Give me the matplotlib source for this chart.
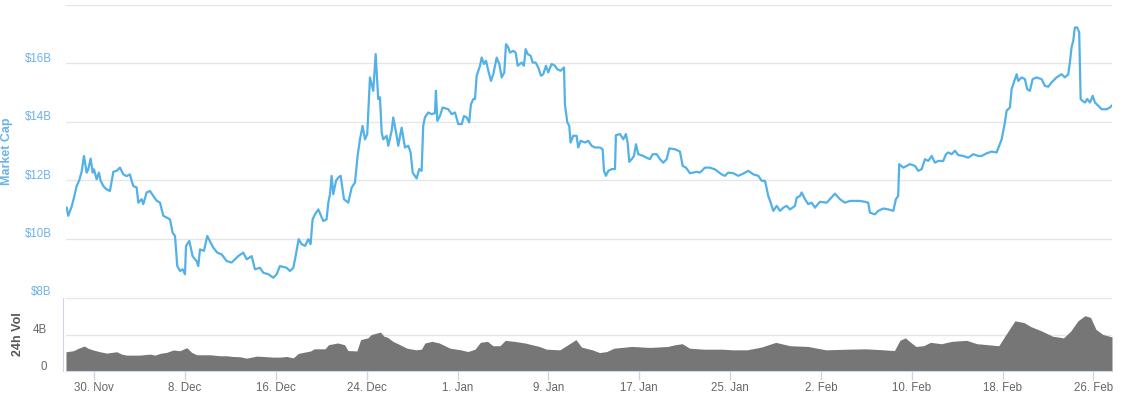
import matplotlib
matplotlib.use("Agg")
import matplotlib.pyplot as plt
import matplotlib.transforms as mtransforms
import pandas as pd

# ---------------- data ----------------
BASE_DATE = "2018-11-30"

# market cap: time in days relative to BASE_DATE, value in $B
mcap_day = [
    -2.43, -2.29, -1.99, -1.79, -1.55, -1.32, -1.11, -0.91, -0.67, -0.53, -0.32, -0.14, -0.03,
    0.21, 0.41, 0.56, 0.80, 1.03, 1.38, 1.68, 1.97, 2.26, 2.56, 2.85, 3.14, 3.29, 3.44, 3.73,
    3.88, 4.17, 4.32, 4.61, 4.91, 5.20, 5.49, 5.79, 6.08, 6.37, 6.67, 6.90, 7.11, 7.31, 7.55,
    7.78, 7.99, 8.08, 8.37, 8.66, 9.01, 9.16, 9.31, 9.66, 9.95, 10.25, 10.48, 10.83, 11.22,
    11.66, 12.10, 12.68, 13.12, 13.42, 13.86, 14.15, 14.59, 14.89, 15.33, 15.77, 16.06, 16.35,
    16.94, 17.23, 17.53, 17.76, 18.00, 18.26, 18.56, 18.85, 19.05, 19.23, 19.44, 19.73, 20.17,
    20.46, 20.61, 20.76, 20.90, 21.05, 21.29, 21.49, 21.70, 21.99, 22.37, 22.67, 22.96, 23.19,
    23.40, 23.63, 23.84, 24.04, 24.28, 24.57, 24.78, 25.01, 25.16, 25.31, 25.45, 25.75, 25.89,
    26.19, 26.33, 26.63, 26.77, 27.07, 27.36, 27.65, 27.86, 28.04, 28.39, 28.62, 28.83, 28.97,
    29.12, 29.41, 29.71, 30.00, 30.09, 30.21, 30.44, 30.68, 31.18, 31.48, 31.77, 32.06, 32.36,
    32.56, 32.80, 33.02, 33.17, 33.38, 33.53, 33.68, 33.97, 34.12, 34.32, 34.50, 34.70, 34.94,
    35.14, 35.44, 35.67, 35.88, 36.11, 36.26, 36.46, 36.61, 36.90, 37.11, 37.29, 37.64, 37.84,
    37.99, 38.17, 38.43, 38.61, 38.87, 39.10, 39.34, 39.54, 39.78, 39.98, 40.28, 40.57, 40.77,
    41.07, 41.37, 41.45, 41.66, 41.83, 41.95, 42.18, 42.48, 42.62, 42.84, 43.21, 43.51, 43.80,
    44.09, 44.53, 44.77, 44.89, 45.06, 45.27, 45.57, 45.86, 45.94, 46.30, 46.59, 46.82, 46.97,
    47.12, 47.33, 47.53, 47.71, 47.91, 48.35, 48.65, 48.94, 49.18, 49.53, 49.82, 50.11, 50.41,
    50.64, 51.14, 51.58, 51.82, 52.11, 52.46, 52.75, 53.05, 53.34, 53.78, 54.22, 54.66, 55.04,
    55.25, 55.54, 55.83, 56.27, 56.71, 57.01, 57.60, 58.04, 58.48, 58.78, 59.07, 59.36, 59.57,
    59.80, 60.10, 60.39, 60.68, 60.98, 61.27, 61.71, 61.86, 62.15, 62.30, 62.59, 62.88, 63.18,
    63.47, 63.91, 64.50, 64.79, 65.23, 65.67, 66.11, 66.55, 66.99, 67.43, 67.87, 68.16, 68.31,
    68.75, 69.04, 69.49, 69.93, 70.37, 70.60, 70.80, 70.89, 71.25, 71.54, 71.84, 72.28, 72.57,
    72.87, 73.16, 73.45, 73.75, 74.04, 74.33, 74.77, 75.01, 75.21, 75.51, 75.80, 76.09, 76.53,
    76.97, 77.41, 77.85, 78.15, 78.59, 79.03, 79.47, 79.70, 79.91, 80.20, 80.35, 80.64, 80.79,
    80.99, 81.23, 81.37, 81.67, 81.96, 82.16, 82.40, 82.64, 82.99, 83.43, 83.72, 84.01, 84.31,
    84.75, 85.19, 85.48, 85.78, 85.92, 86.07, 86.22, 86.36, 86.57, 86.74, 86.87, 87.01, 87.25,
    87.45, 87.69, 87.93, 88.13, 88.42, 88.72, 89.16, 89.45, 89.60,
]
mcap_bn = [
    11.06, 10.78, 11.10, 11.40, 11.80, 12.00, 12.30, 12.83, 12.26, 12.37, 12.74, 12.26, 12.37,
    12.03, 12.26, 11.98, 11.80, 11.70, 11.63, 12.29, 12.32, 12.43, 12.20, 12.14, 12.20, 11.98,
    11.80, 11.75, 11.23, 11.35, 11.18, 11.58, 11.63, 11.46, 11.30, 11.23, 10.78, 10.72, 10.66,
    10.20, 10.09, 9.06, 8.89, 8.95, 8.78, 9.75, 9.92, 9.40, 9.23, 9.06, 9.63, 9.58, 10.09, 9.86,
    9.69, 9.52, 9.46, 9.23, 9.18, 9.40, 9.52, 9.29, 9.40, 8.95, 9.00, 8.83, 8.78, 8.66, 8.78,
    9.06, 9.00, 8.89, 9.00, 9.46, 9.98, 9.81, 9.75, 9.98, 9.81, 10.66, 10.83, 11.00, 10.60,
    10.66, 11.23, 11.52, 12.15, 11.52, 11.98, 12.09, 12.15, 11.35, 11.23, 11.75, 11.92, 12.83,
    13.40, 13.86, 13.40, 13.58, 15.52, 15.06, 16.32, 14.78, 14.84, 13.63, 13.40, 13.52, 13.18,
    13.69, 14.15, 13.52, 13.18, 13.80, 13.12, 13.18, 12.95, 12.26, 12.06, 12.38, 12.32, 13.86,
    14.15, 14.32, 14.26, 14.30, 15.06, 14.03, 14.20, 14.49, 14.43, 14.26, 14.32, 13.92, 13.92,
    14.20, 14.15, 13.98, 14.60, 14.78, 14.78, 15.58, 15.92, 16.20, 15.98, 16.09, 15.75, 15.40,
    15.63, 16.20, 15.98, 15.52, 15.69, 16.66, 16.55, 16.37, 16.43, 16.37, 15.92, 16.03, 15.92,
    16.49, 16.32, 16.26, 16.03, 16.03, 15.86, 15.58, 15.63, 15.92, 15.69, 15.98, 15.92, 15.80,
    15.75, 15.86, 14.60, 13.98, 13.86, 13.29, 13.52, 13.52, 13.12, 13.35, 13.29, 13.35, 13.18,
    13.12, 13.12, 13.06, 12.32, 12.15, 12.32, 12.38, 12.38, 13.54, 13.58, 13.40, 13.58, 13.29,
    12.63, 12.72, 12.83, 13.23, 12.89, 12.83, 12.77, 12.72, 12.89, 12.89, 12.72, 12.60, 12.72,
    13.09, 13.06, 12.98, 12.49, 12.43, 12.24, 12.26, 12.29, 12.26, 12.43, 12.43, 12.37, 12.26,
    12.20, 12.15, 12.26, 12.24, 12.15, 12.20, 12.32, 12.20, 12.15, 11.98, 11.98, 11.46, 11.23,
    10.95, 11.12, 10.95, 11.06, 11.12, 11.00, 11.12, 11.40, 11.46, 11.58, 11.35, 11.18, 11.23,
    11.06, 11.26, 11.23, 11.35, 11.54, 11.35, 11.23, 11.29, 11.29, 11.29, 11.26, 11.23, 10.89,
    10.83, 10.95, 11.03, 11.00, 10.95, 11.35, 11.46, 12.55, 12.43, 12.49, 12.55, 12.49, 12.32,
    12.38, 12.72, 12.66, 12.83, 12.60, 12.66, 12.66, 12.89, 12.95, 12.89, 13.01, 12.86, 12.83,
    12.77, 12.89, 12.83, 12.83, 12.92, 12.98, 12.95, 13.18, 13.40, 13.98, 14.38, 14.49, 15.12,
    15.35, 15.63, 15.40, 15.52, 15.46, 15.12, 15.06, 15.46, 15.52, 15.46, 15.23, 15.20, 15.35,
    15.52, 15.63, 15.52, 15.63, 16.03, 16.55, 16.78, 17.23, 17.23, 17.06, 14.78, 14.72, 14.66,
    14.78, 14.66, 14.89, 14.66, 14.55, 14.43, 14.43, 14.49, 14.55,
]

# 24h volume: time in days relative to BASE_DATE, value in billions
vol_day = [
    -2.49, -1.85, -1.41, -0.88, -0.53, -0.09, 0.50, 1.09, 1.97, 2.41, 2.85, 4.02, 4.91, 5.35,
    5.79, 6.37, 6.96, 7.55, 8.14, 8.58, 9.02, 10.19, 11.07, 11.66, 12.24, 12.83, 13.42, 14.30,
    14.88, 15.76, 16.35, 16.94, 17.53, 17.97, 19.06, 19.37, 20.32, 20.63, 21.42, 22.04, 22.34,
    23.13, 23.46, 24.09, 24.40, 25.20, 25.51, 25.82, 26.30, 26.92, 27.54, 28.33, 28.81, 29.12,
    29.74, 30.38, 31.33, 32.27, 32.90, 33.53, 34.00, 34.63, 35.10, 35.73, 36.20, 36.99, 37.93,
    38.55, 39.19, 39.81, 41.01, 41.96, 42.42, 42.91, 43.86, 44.50, 45.13, 45.77, 47.35, 48.94,
    50.52, 51.15, 51.78, 52.42, 53.68, 55.27, 56.22, 57.48, 58.75, 60.02, 61.27, 62.85, 64.44,
    66.36, 67.94, 69.52, 70.47, 70.95, 71.42, 71.90, 72.37, 73.03, 73.64, 74.60, 75.53, 76.81,
    77.74, 78.70, 79.66, 80.29, 81.08, 81.88, 82.49, 83.46, 84.41, 85.36, 85.99, 86.63, 87.25,
    87.74, 88.22, 88.83, 89.63,
]
vol_bn = [
    2.11, 2.22, 2.48, 2.74, 2.48, 2.30, 2.11, 1.96, 2.11, 1.85, 1.74, 1.74, 1.85, 1.74, 1.93,
    2.04, 2.30, 2.22, 2.56, 2.04, 1.78, 1.78, 1.67, 1.67, 1.59, 1.56, 1.41, 1.63, 1.59, 1.52,
    1.52, 1.59, 1.44, 1.93, 2.20, 2.43, 2.43, 2.88, 3.07, 2.88, 2.24, 2.20, 3.44, 3.63, 4.00,
    4.26, 3.81, 3.70, 3.25, 2.88, 2.50, 2.32, 2.39, 3.07, 3.25, 3.07, 2.50, 2.32, 2.13, 2.39,
    3.14, 3.25, 2.77, 2.77, 3.36, 3.25, 3.07, 2.88, 2.69, 2.39, 2.32, 3.07, 3.44, 2.62, 2.32,
    2.02, 2.13, 2.50, 2.69, 2.58, 2.69, 2.88, 2.99, 2.50, 2.39, 2.39, 2.32, 2.32, 2.62, 3.14,
    2.77, 2.69, 2.32, 2.39, 2.43, 2.32, 2.24, 3.36, 3.63, 3.14, 2.69, 2.77, 3.14, 2.99, 3.25,
    3.36, 2.99, 2.88, 2.77, 4.00, 5.50, 5.31, 4.86, 4.37, 3.81, 3.63, 4.37, 5.50, 6.06, 5.87,
    4.56, 4.00, 3.74,
]

view_days = [-2.49, 89.63]
tick_step_days = 8
main_ticks = [8, 10, 12, 14, 16, 18]
main_tick_labels = ["$8B", "$10B", "$12B", "$14B", "$16B", ""]
vol_ticks = [0, 4, 8]
vol_tick_labels = ["0", "4B", ""]

# ---------------- styling ----------------
LINE_C = "#52b1e7"
LABEL_BLUE = "#6cb3ea"
GRID_C = "#e6e6e6"
AXIS_C = "#ccd6eb"
TEXT_GREY = "#666666"
VOL_C = "#767676"
FONT = ["Liberation Sans", "DejaVu Sans"]

plt.rcParams["font.family"] = FONT

W, H, DPI = 1124, 396, 100
fig = plt.figure(figsize=(W / DPI, H / DPI), dpi=DPI)
fig.patch.set_facecolor("white")


def fx(px):
    return px / W


def fy(py):
    return 1 - py / H


left, right = 66, 1112
width_px = right - left
ax = fig.add_axes([fx(left), fy(297), fx(width_px), fy(5) - fy(297)])
axv = fig.add_axes([fx(left), fy(371), fx(width_px), fy(298) - fy(371)], sharex=ax)

base = pd.Timestamp(BASE_DATE)
t_m = base + pd.to_timedelta(mcap_day, unit="D")
t_v = base + pd.to_timedelta(vol_day, unit="D")
xlim = (base + pd.Timedelta(days=view_days[0]), base + pd.Timedelta(days=view_days[1]))

# main line
ax.plot(t_m, mcap_bn, color=LINE_C, lw=1.6, solid_joinstyle="round", zorder=3)
ax.set_xlim(*xlim)
ax.set_ylim(8, 18)
ax.set_yticks(main_ticks)
ax.set_yticklabels(main_tick_labels)
ax.grid(axis="y", color=GRID_C, lw=1.0)
ax.set_axisbelow(True)
for s in ax.spines.values():
    s.set_visible(False)
ax.tick_params(axis="y", length=0, pad=10.5, labelsize=8.3, labelcolor=LABEL_BLUE)
ax.tick_params(axis="x", length=0, labelbottom=False)
ax.set_ylabel("Market Cap", color=LABEL_BLUE, fontsize=9, fontweight="bold")
ax.yaxis.set_label_coords(-(left - 13) / width_px, 0.5)

# volume area
axv.fill_between(t_v, vol_bn, 0, color=VOL_C, lw=0, zorder=2)
axv.set_ylim(0, 8)
axv.set_yticks(vol_ticks)
axv.set_yticklabels(vol_tick_labels)
axv.grid(axis="y", color=GRID_C, lw=1.0)
axv.set_axisbelow(True)
for k in ("top", "right"):
    axv.spines[k].set_visible(False)
axv.spines["left"].set_color(AXIS_C)
axv.spines["left"].set_position(("outward", 2))
axv.spines["bottom"].set_color(AXIS_C)
axv.tick_params(axis="y", length=0, pad=12, labelsize=8.3, labelcolor=TEXT_GREY)
axv.set_ylabel("24h Vol", color="#555555", fontsize=9, fontweight="bold")
axv.yaxis.set_label_coords(-(left - 24) / width_px, 0.5)

# date ticks
ticks = pd.date_range(base, base + pd.Timedelta(days=88), freq=f"{tick_step_days}D")
axv.set_xticks(ticks)
axv.set_xticklabels([f"{d.day}. {d.strftime('%b')}" for d in ticks])
axv.tick_params(axis="x", length=6.5, width=1, color=AXIS_C, labelsize=8.3,
                labelcolor=TEXT_GREY, pad=1.5)
axv.set_xlim(*xlim)

# shift y labels upward like the reference
off = mtransforms.ScaledTranslation(0, 6 / DPI, fig.dpi_scale_trans)
for a in (ax, axv):
    for lab in a.get_yticklabels():
        lab.set_transform(lab.get_transform() + off)

fig.savefig("out.png", dpi=DPI, facecolor="white")
